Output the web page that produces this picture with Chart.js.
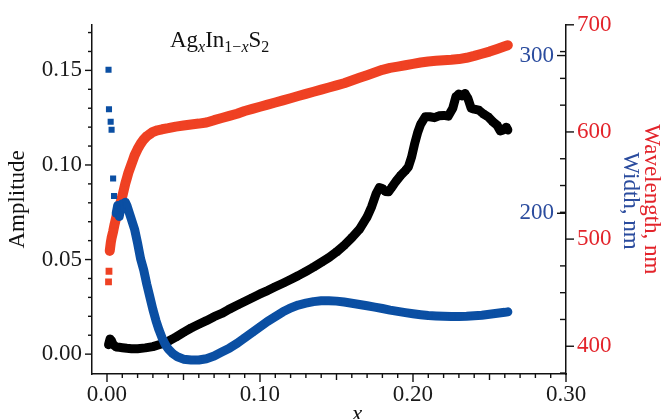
<!DOCTYPE html>
<html>
<head>
<meta charset="utf-8">
<script src="https://cdn.jsdelivr.net/npm/chart.js@4.4.1/dist/chart.umd.min.js"></script>
<style>
    html, body { margin: 0; padding: 0; background: #fff; }
</style>
</head>
<body>
<canvas id="chart" width="665" height="419"></canvas>
<script>
//横轴：组成 x
var ampX = [0.001, 0.002, 0.003, 0.004, 0.006, 0.008, 0.010, 0.013, 0.016, 0.020,
    0.025, 0.030, 0.035, 0.040, 0.045, 0.050, 0.055, 0.060, 0.065, 0.070,
    0.075, 0.080, 0.085, 0.090, 0.095, 0.100, 0.105, 0.110, 0.115, 0.120,
    0.125, 0.130, 0.135, 0.140, 0.145, 0.150, 0.155, 0.160, 0.165, 0.170,
    0.173, 0.176, 0.178, 0.180, 0.182, 0.184, 0.186, 0.189, 0.192, 0.195,
    0.197, 0.199, 0.201, 0.203, 0.205, 0.208, 0.211, 0.214, 0.217, 0.220,
    0.223, 0.226, 0.228, 0.230, 0.232, 0.234, 0.236, 0.238, 0.240, 0.243,
    0.246, 0.249, 0.252, 0.255, 0.257, 0.259, 0.261, 0.262];
//振幅（左轴）
var ampY = [0.0050, 0.0080, 0.0070, 0.0050, 0.0038, 0.0036, 0.0034, 0.0031, 0.0029, 0.0029,
    0.0033, 0.0040, 0.0052, 0.0068, 0.0090, 0.0115, 0.0138, 0.0158, 0.0177, 0.0198,
    0.0215, 0.0238, 0.0258, 0.0278, 0.0298, 0.0318, 0.0336, 0.0356, 0.0375, 0.0395,
    0.0415, 0.0437, 0.0460, 0.0485, 0.0510, 0.0540, 0.0575, 0.0615, 0.0660, 0.0725,
    0.0780, 0.0850, 0.0880, 0.0875, 0.0860, 0.0858, 0.0880, 0.0915, 0.0945, 0.0970,
    0.0990, 0.1040, 0.1110, 0.1170, 0.1215, 0.1255, 0.1255, 0.1250, 0.1260, 0.1262,
    0.1258, 0.1300, 0.1360, 0.1375, 0.1365, 0.1378, 0.1350, 0.1300, 0.1295, 0.1290,
    0.1270, 0.1255, 0.1230, 0.1210, 0.1180, 0.1185, 0.1200, 0.1185];

var widthX = [0.0010, 0.0013, 0.0024, 0.0030, 0.0040, 0.0046,
    0.006, 0.007, 0.008, 0.009, 0.010, 0.011, 0.012, 0.013, 0.014, 0.015, 0.016,
    0.018, 0.020, 0.022, 0.024, 0.026, 0.028, 0.030, 0.032, 0.034, 0.036, 0.038, 0.040,
    0.043, 0.046, 0.050, 0.055, 0.060, 0.065, 0.070, 0.075, 0.080, 0.085, 0.090,
    0.095, 0.100, 0.105, 0.110, 0.115, 0.120, 0.125, 0.130, 0.135, 0.140,
    0.145, 0.150, 0.155, 0.160, 0.165, 0.170, 0.175, 0.180, 0.185, 0.190,
    0.195, 0.200, 0.205, 0.210, 0.215, 0.220, 0.225, 0.230, 0.235, 0.240,
    0.245, 0.250, 0.255, 0.260, 0.262];
//峰宽，nm（右内轴）
var widthY = [291, 266, 258, 253, 222, 211,
    200, 205, 198, 203, 206, 204, 207, 205, 202, 199, 196,
    190, 181, 171, 164, 155, 147, 139, 132, 126, 121, 117, 114,
    111, 109, 107.5, 107, 107, 107.8, 109.5, 112, 114.5, 117.5, 121,
    124.5, 128, 131.5, 134.5, 137.5, 140, 141.8, 143, 144, 144.5,
    144.6, 144.3, 143.7, 143, 142.2, 141.4, 140.5, 139.6, 138.6, 137.8,
    137, 136.3, 135.7, 135.2, 134.9, 134.7, 134.6, 134.6, 134.7, 135,
    135.4, 136, 136.6, 137.2, 137.5];

var waveX = [0.0010, 0.0013, 0.0018, 0.0025, 0.003, 0.004, 0.005, 0.006, 0.007, 0.008,
    0.009, 0.010, 0.011, 0.012, 0.013, 0.014, 0.015, 0.016, 0.017, 0.018,
    0.020, 0.022, 0.024, 0.026, 0.028, 0.030, 0.033, 0.036, 0.040, 0.045,
    0.050, 0.055, 0.060, 0.065, 0.070, 0.075, 0.080, 0.085, 0.090, 0.095,
    0.100, 0.105, 0.110, 0.115, 0.120, 0.125, 0.130, 0.135, 0.140, 0.145,
    0.150, 0.155, 0.160, 0.165, 0.170, 0.175, 0.180, 0.185, 0.190, 0.195,
    0.200, 0.205, 0.210, 0.215, 0.220, 0.225, 0.230, 0.235, 0.240, 0.245,
    0.250, 0.255, 0.260, 0.262];
//峰位波长，nm（右外轴）
var waveY = [460, 470, 489, 497, 501, 507, 514, 520, 526, 530,
    535, 540, 546, 552, 557, 562, 566, 570, 574, 578,
    584, 589, 593, 596, 598, 600, 601.5, 602.5, 603.5, 605,
    606, 607, 607.8, 608.8, 611, 613, 615, 617, 619.5, 621.5,
    623.5, 625.5, 627.5, 629.5, 631.5, 633.5, 635.5, 637.5, 639.5, 641.5,
    643.5, 645.5, 648, 650.5, 653, 655.5, 658, 659.8, 661, 662.2,
    663.5, 664.8, 665.8, 666.4, 667, 667.4, 668, 669.2, 671, 673,
    675, 677.5, 680, 681];

//开头几个孤立的点，不连线
var widthLoose = 7;
var waveLoose = 3;

//刻度标签
var xTicks = [0, 0.1, 0.2, 0.3];
var ampTicks = [0, 0.05, 0.10, 0.15];
var widthTicks = [200, 300];
var waveTicks = [400, 500, 600, 700];

var BLUE = "#0b4fa3";
var RED = "#ef4123";
var BLUE_TEXT = "#2b4c9e";
var RED_TEXT = "#e3242b";
var FONT = "'Liberation Serif', 'Times New Roman', serif";

function makeSeries(xs, ys, color, axisId, loose, lineWidth, radius) {
    return {
        data: xs.map(function (x, i) { return {x: x, y: ys[i]}; }),
        yAxisID: axisId,
        showLine: true,
        borderColor: color,
        backgroundColor: color,
        borderWidth: lineWidth,
        borderJoinStyle: "round",
        borderCapStyle: "round",
        pointStyle: "rect",
        pointRadius: radius,
        pointBorderWidth: 0,
        pointHoverRadius: radius,
        segment: {
            borderColor: function (c) { return c.p1DataIndex < loose ? "rgba(0,0,0,0)" : undefined; }
        }
    };
}

function fixTicks(list) {
    return function (scale) {
        scale.ticks = list.map(function (v) { return {value: v}; });
    };
}

/**
 * 画刻度线（主刻度和次刻度），以及几个附加文字
 */
var decorPlugin = {
    id: "decor",
    afterDraw: function (chart) {
        var ctx = chart.ctx;
        var sx = chart.scales.x, sy = chart.scales.y, sw = chart.scales.yW, sl = chart.scales.yL;
        var i, p, len;

        function seg(x1, y1, x2, y2) {
            ctx.beginPath();
            ctx.moveTo(x1, y1);
            ctx.lineTo(x2, y2);
            ctx.stroke();
        }

        ctx.save();
        ctx.strokeStyle = "#111";
        ctx.lineWidth = 1.4;

        //横轴
        for (i = 0; i <= 30; i++) {
            p = sx.getPixelForValue(i / 100);
            len = i % 10 === 0 ? 8 : (i % 5 === 0 ? 6 : 4);
            seg(p, sx.top, p, sx.top + len);
        }
        //左轴
        for (i = -1; i <= 17; i++) {
            p = sy.getPixelForValue(i / 100);
            if (p > sy.bottom - 1) continue;
            len = i % 5 === 0 ? 7 : 4;
            seg(sy.right - len, p, sy.right, p);
        }
        //右轴：波长主刻度朝外，次刻度朝内
        var axisX = sl.left;
        for (i = 375; i <= 700; i += 25) {
            p = sl.getPixelForValue(i);
            if (i % 100 === 0) {
                seg(axisX, p, axisX + 8, p);
            } else {
                seg(axisX - 6, p, axisX, p);
            }
        }
        //右轴：峰宽刻度朝内
        widthTicks.forEach(function (v) {
            p = sw.getPixelForValue(v);
            seg(axisX - 9, p, axisX, p);
        });

        //右侧蓝色标题
        ctx.fillStyle = BLUE_TEXT;
        ctx.font = "23px " + FONT;
        ctx.textAlign = "center";
        ctx.textBaseline = "middle";
        ctx.translate(630, 201);
        ctx.rotate(Math.PI / 2);
        ctx.fillText("Width, nm", 0, 0);
        ctx.setTransform(1, 0, 0, 1, 0, 0);

        //横轴标题
        ctx.fillStyle = "#111";
        ctx.font = "italic 23px " + FONT;
        ctx.textAlign = "center";
        ctx.textBaseline = "alphabetic";
        ctx.fillText("x", 357, 421);

        //化学式
        var parts = [["Ag", 0], ["x", 1], ["In", 0], ["1\u2212", 2], ["x", 1], ["S", 0], ["2", 2]];
        var px = 170;
        ctx.textAlign = "left";
        parts.forEach(function (pt) {
            var f = pt[1] === 0 ? "23px " : (pt[1] === 1 ? "italic 16px " : "16px ");
            ctx.font = f + FONT;
            ctx.fillText(pt[0], px, pt[1] === 0 ? 47 : 52);
            px += ctx.measureText(pt[0]).width;
        });
        ctx.restore();
    }
};

var ctx = document.getElementById("chart").getContext("2d");

var chart = new Chart(ctx, {
    type: "scatter",
    data: {
        datasets: [
            makeSeries(widthX, widthY, BLUE, "yW", widthLoose, 9, 4.3),
            makeSeries(ampX, ampY, "#000", "y", 0, 9, 4.6),
            makeSeries(waveX, waveY, RED, "yL", waveLoose, 10, 4.8)
        ]
    },
    options: {
        responsive: false,
        animation: false,
        devicePixelRatio: 1,
        layout: {padding: {top: 22, left: 0, right: 0, bottom: 0}},
        plugins: {legend: {display: false}, tooltip: {enabled: false}},
        scales: {
            x: {
                type: "linear",
                position: "bottom",
                min: -0.0098,
                max: 0.30,
                afterFit: function (s) { s.height = 45; },
                afterBuildTicks: fixTicks(xTicks),
                grid: {display: false, drawTicks: false},
                border: {display: true, color: "#111", width: 1.5},
                ticks: {
                    color: "#1a1a1a",
                    font: {family: FONT, size: 23},
                    padding: 7,
                    maxRotation: 0,
                    autoSkip: false,
                    callback: function (v) { return v.toFixed(2); }
                }
            },
            y: {
                type: "linear",
                position: "left",
                min: -0.0105,
                max: 0.1741,
                afterFit: function (s) { s.width = 92; },
                afterBuildTicks: fixTicks(ampTicks),
                grid: {display: false, drawTicks: false},
                border: {display: true, color: "#111", width: 1.5},
                ticks: {
                    color: "#1a1a1a",
                    font: {family: FONT, size: 23},
                    padding: 10,
                    callback: function (v) { return v.toFixed(2); }
                },
                title: {
                    display: true,
                    text: "Amplitude",
                    color: "#111",
                    font: {family: FONT, size: 23},
                    padding: {top: 4, bottom: 0}
                }
            },
            yW: {
                type: "linear",
                position: "right",
                weight: 0,
                min: 98.1,
                max: 319.5,
                afterFit: function (s) { s.width = 0; },
                afterBuildTicks: fixTicks(widthTicks),
                grid: {display: false, drawTicks: false},
                border: {display: false},
                ticks: {
                    mirror: true,
                    color: BLUE_TEXT,
                    font: {family: FONT, size: 23},
                    padding: -12
                }
            },
            yL: {
                type: "linear",
                position: "right",
                weight: 1,
                min: 374.1,
                max: 700,
                afterFit: function (s) { s.width = 99; },
                afterBuildTicks: fixTicks(waveTicks),
                grid: {display: false, drawTicks: false},
                border: {display: true, color: "#111", width: 1.5},
                ticks: {
                    color: RED_TEXT,
                    font: {family: FONT, size: 23},
                    padding: 11
                },
                title: {
                    display: true,
                    text: "Wavelength, nm",
                    color: RED_TEXT,
                    font: {family: FONT, size: 23},
                    padding: {top: 0, bottom: 0}
                }
            }
        }
    },
    plugins: [decorPlugin]
});
</script>
</body>
</html>
